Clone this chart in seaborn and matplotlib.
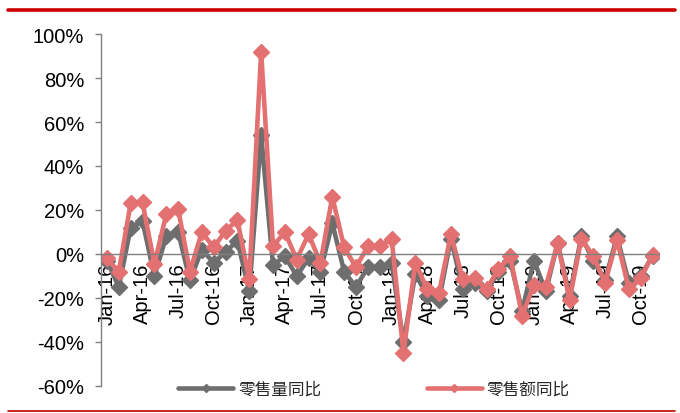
import matplotlib
matplotlib.use("Agg")
import matplotlib.pyplot as plt
import numpy as np
import pandas as pd
import seaborn as sns
from matplotlib.lines import Line2D
from matplotlib.ticker import FuncFormatter

# Monthly year-on-year growth (%), Jan-16 .. Nov-19
months = pd.date_range("2016-01-01", periods=47, freq="MS").strftime("%b-%y").tolist()

volume_yoy = [-3, -15, 12, 15, -10, 8, 10, -12, 2, -4, 1, 6,
              -17, 54, -5, -1, -10, -2, -8, 14, -8, -15, -6, -6,
              -4, -40, -9, -19, -21, 7, -16, -13, -17, -8, -3, -26,
              -3, -17, 5, -19, 8, -3, -12, 8, -13, -10, -1]

value_yoy = [-2, -8, 23, 23.5, -4.5, 18, 20.5, -8, 10, 3, 10.5, 15.5,
             -11.5, 92, 3.5, 10, -2.5, 9, -4, 26, 3, -6, 3.5, 3.5,
             7, -45, -4, -16, -17.5, 9, -11.5, -11, -16, -7, -1, -28,
             -14, -15, 5, -21, 7, -1, -13, 6.5, -16, -11, -0.5]

series_names = ["零售量同比", "零售额同比"]
series_colors = ["#6e6e6e", "#e37171"]

tick_labels = ["Jan-16", "Apr-16", "Jul-16", "Oct-16",
               "Jan-17", "Apr-17", "Jul-17", "Oct-17",
               "Jan-18", "Apr-18", "Jul-18", "Oct-18",
               "Jan-19", "Apr-19", "Jul-19", "Oct-19"]

sns.set_theme(style="white")
plt.rcParams["font.family"] = ["Liberation Sans", "Noto Sans CJK SC", "DejaVu Sans"]

df = pd.DataFrame({"idx": np.arange(len(months)), "month": months,
                   series_names[0]: volume_yoy, series_names[1]: value_yoy})

fig = plt.figure(figsize=(6.8, 4.14), dpi=100)
ax = fig.add_axes([101 / 680, 1 - 387 / 414, 557.5 / 680, 352 / 414])

for name, color in zip(series_names, series_colors):
    sns.lineplot(data=df, x="idx", y=name, ax=ax, color=color, lw=3.3,
                 marker="D", markersize=7.8, markeredgecolor=color,
                 markeredgewidth=1, legend=False)

axis_gray = "#7f7f7f"
ax.set_xlim(-0.5, len(months) - 0.5)
ax.set_ylim(-60, 100)
ax.set_yticks(np.arange(-60, 101, 20))
ax.yaxis.set_major_formatter(FuncFormatter(lambda v, p: f"{v:.0f}%"))
ax.set_xlabel("")
ax.set_ylabel("")

for s in ["top", "right"]:
    ax.spines[s].set_visible(False)
ax.spines["left"].set_color(axis_gray)
ax.spines["left"].set_linewidth(1.0)
ax.spines["bottom"].set_position(("data", 0))
ax.spines["bottom"].set_color(axis_gray)
ax.spines["bottom"].set_linewidth(1.0)

label_pos = [months.index(t) for t in tick_labels]
ax.set_xticks(label_pos)
ax.set_xticklabels(tick_labels, rotation=90, va="top", ha="center")
ax.set_xticks(np.arange(-0.5, len(months), 1), minor=True)
ax.tick_params(axis="x", which="major", length=0, pad=6, labelsize=14.5, colors="black")
ax.tick_params(axis="x", which="minor", direction="in", length=4, width=1, color=axis_gray)
ax.tick_params(axis="y", direction="out", length=4, width=1, color=axis_gray,
               pad=8, labelsize=14.5, labelcolor="black", left=True)

handles = [Line2D([], [], color=c, lw=3.3, marker="D", markersize=4) for c in series_colors]
fig.legend(handles, series_names, loc="center", bbox_to_anchor=(0.55, 1 - 390 / 414),
           ncol=2, frameon=False, handlelength=3.3, columnspacing=6.3,
           handletextpad=0.3, fontsize=12)

fig.add_artist(Line2D([8 / 680, 675 / 680], [1 - 11 / 414] * 2, color="#cc0000", lw=2.6))
fig.add_artist(Line2D([8 / 680, 675 / 680], [1 - 412 / 414] * 2, color="#c00000", lw=1.2))

fig.savefig("out.png", dpi=100)
